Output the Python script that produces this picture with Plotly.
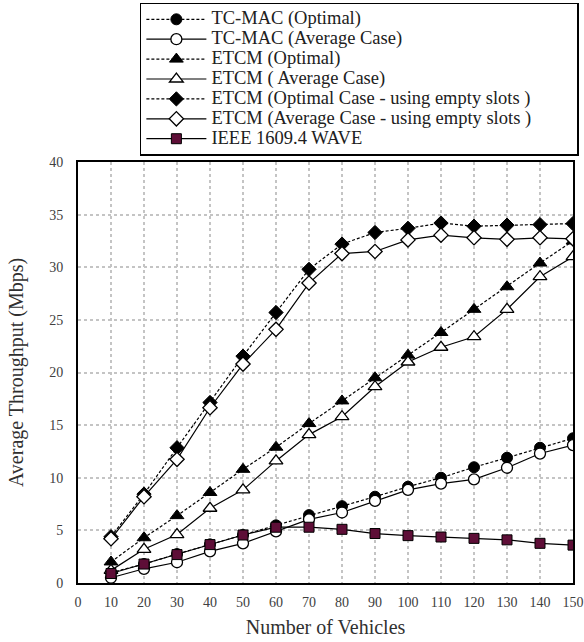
import plotly.graph_objects as go

vehicles = [10, 20, 30, 40, 50, 60, 70, 80, 90, 100, 110, 120, 130, 140, 150]
tcmac_opt = [1.0, 1.8, 2.75, 3.67, 4.56, 5.48, 6.45, 7.3, 8.2, 9.15, 10.0, 11.0, 11.9, 12.85, 13.75]
tcmac_avg = [0.5, 1.35, 1.97, 3.0, 3.77, 4.9, 6.05, 6.7, 7.8, 8.85, 9.45, 9.85, 10.95, 12.3, 13.1]
etcm_opt = [2.0, 4.3, 6.4, 8.6, 10.8, 12.9, 15.15, 17.3, 19.5, 21.65, 23.8, 26.0, 28.15, 30.4, 32.5]
etcm_avg = [1.2, 3.2, 4.6, 7.1, 8.85, 11.6, 14.1, 15.8, 18.65, 21.0, 22.4, 23.4, 26.0, 29.1, 31.0]
etcm_opt_empty = [4.4, 8.45, 12.85, 17.15, 21.55, 25.7, 29.8, 32.2, 33.3, 33.7, 34.2, 33.9, 34.0, 34.05, 34.15]
etcm_avg_empty = [4.2, 8.2, 11.75, 16.65, 20.8, 24.1, 28.5, 31.3, 31.5, 32.6, 33.05, 32.8, 32.65, 32.8, 32.7]
wave = [0.9, 1.8, 2.7, 3.65, 4.56, 5.3, 5.3, 5.1, 4.7, 4.5, 4.37, 4.24, 4.1, 3.77, 3.6]

names = [
    "TC-MAC (Optimal)",
    "TC-MAC (Average Case)",
    "ETCM (Optimal)",
    "ETCM ( Average Case)",
    "ETCM (Optimal Case - using empty slots )",
    "ETCM (Average Case - using empty slots )",
    "IEEE 1609.4 WAVE",
]
x_ticks = list(range(0, 151, 10))
y_ticks = list(range(0, 41, 5))

FONT = "Liberation Serif"
DASH = "3px,2px"

series = [
    (tcmac_opt, DASH, "circle", "black", 11),
    (tcmac_avg, "solid", "circle-open", "black", 11),
    (etcm_opt, DASH, "triangle-up", "black", 12),
    (etcm_avg, "solid", "triangle-up-open", "black", 12),
    (etcm_opt_empty, DASH, "diamond", "black", 11),
    (etcm_avg_empty, "solid", "diamond-open", "black", 11),
    (wave, "solid", "square", "#5E0E37", 10),
]

fig = go.Figure()
for i, ((vals, dash, sym, col, sz), name) in enumerate(zip(series, names)):
    if sym.endswith("-open"):
        marker = dict(symbol=sym.replace("-open", ""), size=sz, color="white",
                      line=dict(color="black", width=1.3))
    else:
        marker = dict(symbol=sym, size=sz, color=col,
                      line=dict(color="black", width=1))
    label = name + ("\u00a0" * 9 if i == 4 else "")
    fig.add_trace(go.Scatter(
        x=vehicles, y=vals, mode="lines+markers",
        name='<span style="font-size:18.5px">' + label + "</span>",
        line=dict(color="black", width=1.2, dash=dash),
        marker=marker,
    ))

axis_common = dict(
    showline=True, linecolor="black", linewidth=2, mirror=True,
    showgrid=True, gridcolor="#c4c4c4", gridwidth=1.5, griddash="dot",
    zeroline=False, ticks="", automargin=False,
    tickfont=dict(family=FONT, size=14, color="#404040"),
)

fig.update_layout(
    width=584, height=642,
    margin=dict(l=78, r=11, t=162, b=59, autoexpand=False),
    paper_bgcolor="white", plot_bgcolor="white",
    font=dict(family=FONT, color="#303030"),
    xaxis=dict(range=[0, 150], tickvals=x_ticks, ticklabelstandoff=5,
               title=dict(text="Number of Vehicles", font=dict(family=FONT, size=20, color="#303030"),
                          standoff=11),
               **axis_common),
    yaxis=dict(range=[0, 40], tickvals=y_ticks, ticklabelstandoff=10,
               title=dict(text="Average Throughput (Mbps)", font=dict(family=FONT, size=20, color="#303030"),
                          standoff=20),
               **axis_common),
    legend=dict(
        x=0.125, y=1.378, xanchor="left", yanchor="top",
        bgcolor="white", bordercolor="black", borderwidth=1.5,
        font=dict(family=FONT, size=13, color="#202020"),
        itemwidth=60, tracegroupgap=0,
    ),
    showlegend=True,
)

fig.write_html("out.html", config={"displayModeBar": False},
               post_script="document.body.style.margin='0';")
